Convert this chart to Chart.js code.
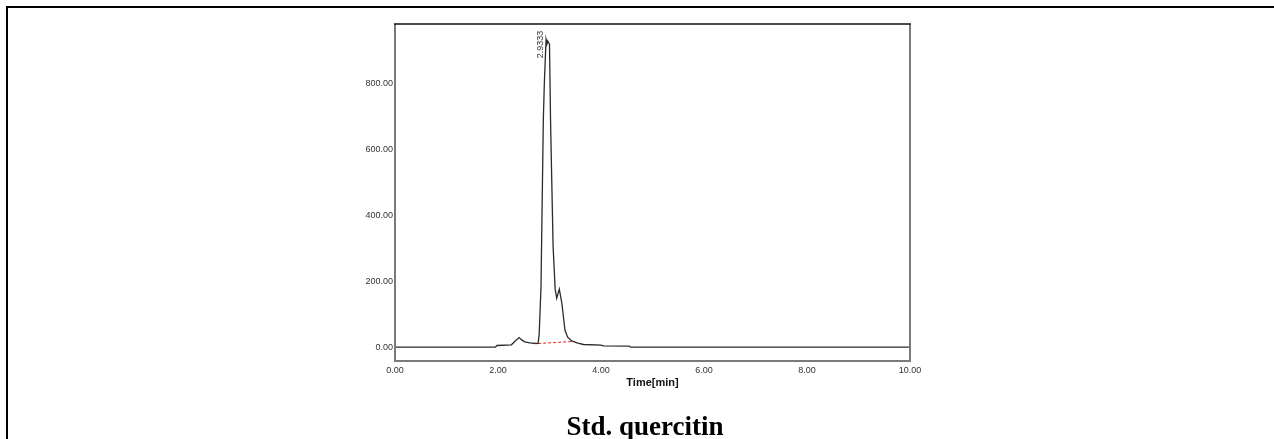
<!DOCTYPE html>
<html>
<head>
<meta charset="utf-8">
<title>Std. quercitin</title>
<script src="https://cdn.jsdelivr.net/npm/chart.js@4.4.1/dist/chart.umd.min.js"></script>
<style>
    html, body { margin: 0; padding: 0; background: #fff; }
    #wrap { position: relative; width: 1274px; height: 439px; overflow: hidden; }
    #frame { position: absolute; left: 6px; top: 6px; right: -10px; bottom: -10px; border-top: 2px solid #000; border-left: 2px solid #000; }
    #chromo { position: absolute; left: 0; top: 0; }
    #caption { position: absolute; left: 495px; width: 300px; top: 413px; line-height: 27px; text-align: center;
        font-family: 'Liberation Serif', 'Times New Roman', serif; font-weight: bold; font-size: 27px; color: #000; }
</style>
</head>
<body>
<div id="wrap">
    <canvas id="chromo" width="1274" height="439"></canvas>
    <div id="frame"></div>
    <div id="caption">Std. quercitin</div>
</div>
<script>
// chromatogram trace (time in min, detector response)
const timeMin = [0, 1.95, 1.98, 2.26, 2.33, 2.41, 2.46, 2.52, 2.62, 2.74, 2.78, 2.80, 2.835, 2.88, 2.90, 2.9333, 2.95, 2.97, 3.00, 3.02, 3.07, 3.11, 3.14, 3.17, 3.19, 3.24, 3.30, 3.35, 3.43, 3.55, 3.66, 4.00, 4.05, 4.55, 4.57, 10.0];
const signal  = [0, 0, 5, 7, 18, 29, 22, 16, 13, 11, 12, 40, 183, 688, 800, 932, 918, 926, 918, 688, 304, 175, 148, 165, 176, 133, 52, 31, 19, 12, 8, 6, 4, 3, 0, 0];

// integration baseline under the main peak
const baseTime = [2.78, 3.43];
const baseSignal = [11, 17];

const peakTime = 2.9333;
const xTicks = [0, 2, 4, 6, 8, 10];
const yTicks = [0, 200, 400, 600, 800];

const tickFont = { family: "'Liberation Sans', Arial, sans-serif", size: 9 };

function pairs(xs, ys) {
    return xs.map((x, i) => ({ x, y: ys[i] }));
}

// plot box: black top edge, grey sunken sides
const boxPlugin = {
    id: 'box',
    afterDraw(chart) {
        const { ctx, chartArea: a } = chart;
        ctx.save();
        ctx.strokeStyle = '#7a7a7a';
        ctx.lineWidth = 2;
        ctx.beginPath();
        ctx.moveTo(a.left, a.top);
        ctx.lineTo(a.left, a.bottom);
        ctx.lineTo(a.right, a.bottom);
        ctx.lineTo(a.right, a.top);
        ctx.stroke();
        ctx.strokeStyle = '#111';
        ctx.lineWidth = 1.5;
        ctx.beginPath();
        ctx.moveTo(a.left - 1, a.top);
        ctx.lineTo(a.right + 1, a.top);
        ctx.stroke();
        ctx.restore();
    }
};

// retention time printed vertically beside the apex
const peakLabel = {
    id: 'peakLabel',
    afterDatasetsDraw(chart) {
        const { ctx, scales } = chart;
        const i = timeMin.indexOf(peakTime);
        const px = scales.x.getPixelForValue(peakTime);
        const py = scales.y.getPixelForValue(signal[i]);
        ctx.save();
        ctx.translate(px - 6, py + 5);
        ctx.rotate(-Math.PI / 2);
        ctx.font = "9px 'Liberation Sans', Arial, sans-serif";
        ctx.fillStyle = '#333';
        ctx.textAlign = 'center';
        ctx.textBaseline = 'middle';
        ctx.fillText(peakTime.toFixed(4), 0, 0);
        ctx.restore();
    }
};

new Chart(document.getElementById('chromo'), {
    type: 'line',
    data: {
        datasets: [
            {
                data: pairs(timeMin, signal),
                borderColor: '#2b2b2b',
                borderWidth: 1.3,
                pointRadius: 0,
                tension: 0
            },
            {
                data: pairs(baseTime, baseSignal),
                borderColor: '#e8221c',
                borderWidth: 1,
                borderDash: [3, 2],
                pointRadius: 0,
                tension: 0
            }
        ]
    },
    options: {
        responsive: false,
        animation: false,
        layout: { padding: { top: 24, right: 364, bottom: 49, left: 0 } },
        plugins: { legend: { display: false }, tooltip: { enabled: false } },
        scales: {
            x: {
                type: 'linear',
                min: 0,
                max: 10,
                afterBuildTicks: s => { s.ticks = xTicks.map(v => ({ value: v })); },
                afterFit: s => { s.height = 29; },
                grid: { display: false, drawTicks: false },
                border: { display: false },
                ticks: { font: tickFont, color: '#333', padding: 4, maxRotation: 0, callback: v => v.toFixed(2) },
                title: {
                    display: true,
                    text: 'Time[min]',
                    color: '#111',
                    padding: 0,
                    font: { family: "'Liberation Sans', Arial, sans-serif", size: 11, weight: 'bold' }
                }
            },
            y: {
                type: 'linear',
                min: -42,
                max: 979,
                afterBuildTicks: s => { s.ticks = yTicks.map(v => ({ value: v })); },
                afterFit: s => { s.width = 395; },
                grid: { display: false, drawTicks: false },
                border: { display: false },
                ticks: { font: tickFont, color: '#333', padding: 2, callback: v => v.toFixed(2) }
            }
        }
    },
    plugins: [boxPlugin, peakLabel]
});
</script>
</body>
</html>
